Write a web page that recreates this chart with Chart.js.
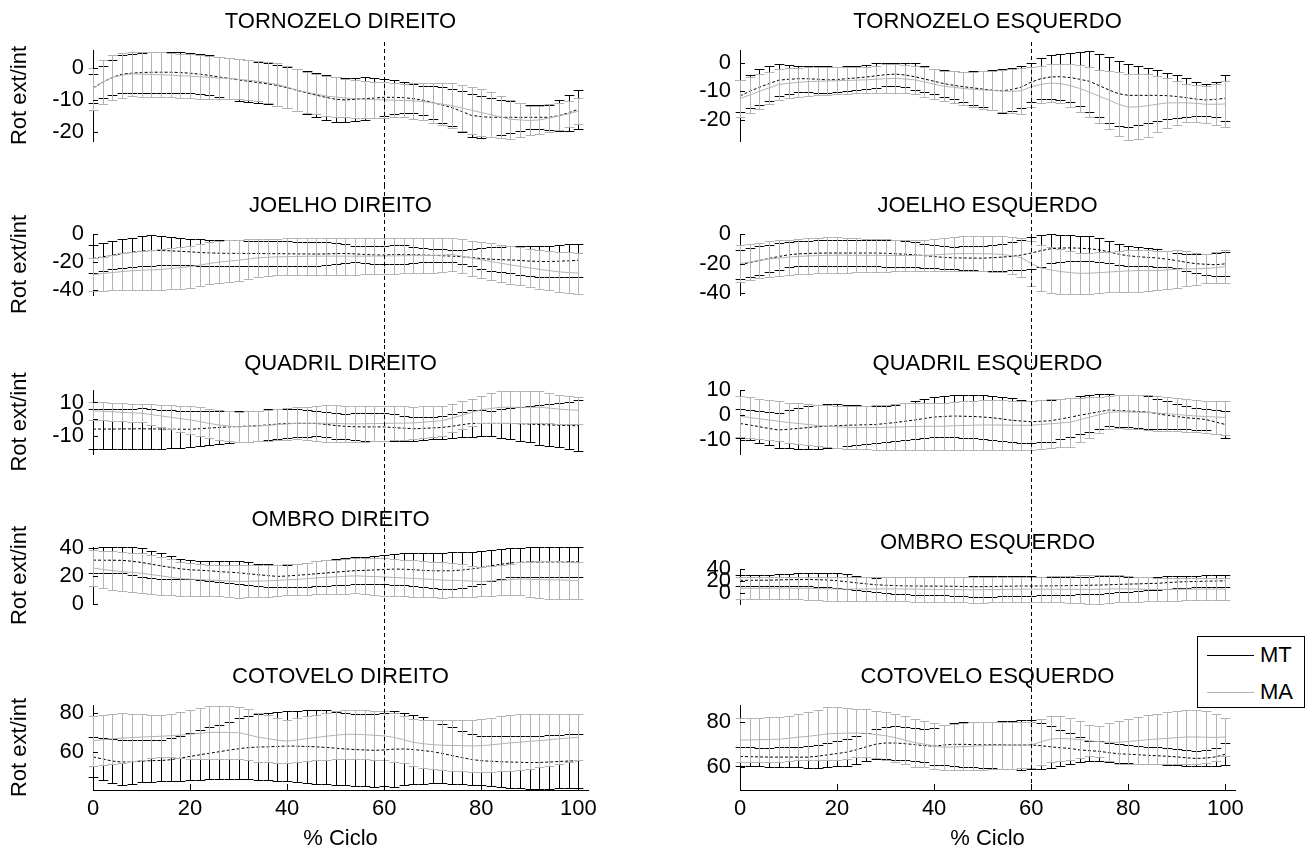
<!DOCTYPE html>
<html>
<head>
<meta charset="utf-8">
<script src="https://cdn.jsdelivr.net/npm/chart.js@4.4.0/dist/chart.umd.min.js"></script>
<style>
  body { margin: 0; background: #fff; }
  #figura { position: relative; width: 1314px; height: 855px; overflow: hidden; font-family: "Liberation Sans", Arial, sans-serif; }
  #figura canvas { position: absolute; }
  #legenda { position: absolute; left: 1197px; top: 636px; width: 106px; height: 70px; border: 1px solid #000; background: #fff; font-size: 22px; }
  #legenda .item { position: absolute; left: 0; height: 26px; line-height: 26px; }
  #legenda .traco { position: absolute; left: 9px; top: 13px; width: 47px; border-top: 1px solid #000; }
  #legenda .nome { position: absolute; left: 62px; top: 0; }
</style>
</head>
<body>
<div id="figura">
  <div id="legenda">
    <div class="item" style="top:5px"><span class="traco"></span><span class="nome">MT</span></div>
    <div class="item" style="top:42px"><span class="traco" style="border-top-color:#b3b3b3"></span><span class="nome">MA</span></div>
  </div>
</div>
<script>
// % do ciclo (eixo x) e marcas
const ciclo = [0,2,4,6,8,10,12,14,16,18,20,22,24,26,28,30,32,34,36,38,40,42,44,46,48,50,52,54,56,58,60,62,64,66,68,70,72,74,76,78,80,82,84,86,88,90,92,94,96,98,100];
const xTicks = [0, 20, 40, 60, 80, 100];
const marcaCiclo = 60;

// TORNOZELO DIREITO
const tornDirMT = [-6.3,-4.5,-3,-2,-1.7,-1.5,-1.4,-1.4,-1.4,-1.5,-1.7,
  -2,-2.4,-2.9,-3.3,-3.8,-4.2,-4.6,-5,-5.5,-6.2,
  -7,-7.8,-8.5,-9.2,-9.8,-10,-9.8,-9.6,-9.4,-9.2,
  -9.2,-9.3,-9.6,-10.1,-10.8,-11.6,-12.4,-13.6,-14.8,-15.2,
  -15.4,-15.4,-15.4,-15.4,-15.4,-15.4,-15.4,-14.9,-14,-12.9];
const tornDirMTdp = [4.5,5,5.5,5.8,6,6.2,6.3,6.3,6.3,6.3,6.3,
  6.2,6.2,6.2,6.3,6.4,6.5,6.5,6.4,6.3,6.3,
  6.5,6.7,6.9,6.9,6.9,6.8,6.7,6.6,6.2,5.8,
  5.3,4.8,4.5,4.5,5,5.5,5.8,6.5,6.6,6.5,
  6,5.5,5,4.3,3.7,3.7,3.8,4.8,5.6,6];
const tornDirMA = [-6.5,-4.5,-3,-2.3,-1.9,-2,-2.1,-2.2,-2.3,-2.5,-2.6,
  -2.8,-3,-3.2,-3.3,-3.6,-3.9,-4.2,-4.7,-5.2,-6,
  -7,-7.6,-8.2,-8.8,-9.1,-9.4,-9.6,-9.8,-9.9,-10,
  -10.1,-10.2,-10.3,-10.5,-10.9,-11.3,-11.8,-12.5,-13.2,-13.9,
  -14.6,-15.3,-16,-16.2,-16.4,-16.2,-15.6,-15,-14.3,-13.5];
const tornDirMAdp = [6.5,6.8,7,7,6.9,7,7,7,6.9,6.9,6.8,
  6.8,6.6,6.4,6.3,6.2,6.2,6.2,6.4,6.6,6.6,
  6.5,6.4,6.3,6.3,6.2,6,5.9,5.7,5.6,5.5,
  5.3,5.2,5.5,5.8,6.2,6.6,7,7.2,7.3,7.4,
  7,6.5,6,5.3,4.6,4.4,4.3,4.2,4.1,4];

// TORNOZELO ESQUERDO
const tornEsqMT = [-11.6,-10,-8.6,-7.3,-6.1,-5.8,-5.6,-5.6,-5.8,-6,-5.9,
  -5.6,-5.3,-5,-4.6,-4.2,-4,-4.3,-4.9,-5.7,-6.5,
  -7.3,-7.9,-8.4,-8.8,-9.2,-9.6,-9.8,-9.4,-8.5,-6.8,
  -5.6,-5,-4.9,-5.2,-5.8,-6.5,-8,-9.5,-10.8,-11.4,
  -11.4,-11.4,-11.4,-11.5,-11.8,-12.2,-12.7,-13,-12.8,-12.4];
const tornEsqMTdp = [5.5,5.8,6.3,6.2,5.6,5,4.5,4.6,4.8,4.7,4.5,
  4.3,4.2,4.3,4.3,4.1,4,4.2,4.6,4.5,4.4,
  4.6,4.9,5.3,5.9,6.4,7,7.6,7.6,7.3,6.8,
  7.1,7.5,8,8.6,9.4,10.7,11,11.5,11.2,11,
  10.3,9.5,8.8,8,7.6,6.8,5.9,5.6,6.2,8];
const tornEsqMA = [-12.5,-11.3,-10,-8.8,-7.6,-7.2,-6.9,-6.6,-6.5,-6.4,-6.3,
  -6.2,-6.1,-6,-5.8,-5.6,-5.5,-5.7,-6,-6.7,-7.5,
  -8.2,-8.6,-9,-9.3,-9.5,-9.7,-9.9,-10,-9.8,-8.4,
  -7.6,-7.1,-7.3,-8,-9,-10.3,-11.7,-13,-14.5,-15.5,
  -15.4,-15,-14.5,-14,-14,-14,-14.2,-14.5,-14.5,-14.4];
const tornEsqMAdp = [6.5,6.3,6,5.7,5.4,5.2,5.1,5,4.9,4.8,4.7,
  4.6,4.5,4.6,4.8,5,5,5,5,5.1,5.2,
  5.3,5.6,5.9,6.2,6.5,6.9,7.3,7.7,8,6.9,
  6.6,6.5,6.8,7.5,8.2,8.8,9.3,10.2,11.1,11.5,
  11.3,11,9.8,8.6,7.6,6.6,6.5,6.5,7.2,7.9];

// JOELHO DIREITO
const joeDirMT = [-17.5,-16.3,-15.1,-14,-13,-12.2,-11.8,-11.8,-12,-12.4,-12.7,
  -13.2,-13.5,-13.7,-13.8,-13.8,-13.9,-13.9,-14,-14,-14.1,
  -14.2,-14.2,-14.3,-14.2,-14,-13.9,-14.2,-14.6,-14.9,-15,
  -14.6,-14.6,-14.8,-15,-15.2,-15.5,-15.8,-16.2,-16.8,-17.5,
  -18,-18.3,-18.5,-18.9,-19.3,-19.6,-19.6,-19.4,-19.1,-18.8];
const joeDirMTdp = [10,10,10,10.2,10.5,10.8,10.8,10.5,10,9.6,9.3,
  9.4,9.5,9.4,9.3,9.2,9.1,9.1,9,9,8.9,
  8.8,8.7,8.6,8.2,7.6,7,5.8,6.2,6.5,6.7,
  7.1,6.5,5.8,5.2,4.8,4.5,4.2,5,6.3,7.5,
  8.4,9,9.6,10.2,10.6,11,11.2,11.5,11.8,12];
const joeDirMA = [-29,-28.2,-27.5,-26.8,-26.2,-25.8,-25.6,-25.3,-24.6,-24,-23.3,
  -22.2,-21,-20,-19.4,-18.7,-17.8,-17,-16.6,-16.3,-16.2,
  -16,-15.9,-15.8,-15.8,-15.8,-15.8,-15.8,-15.8,-15.7,-15.7,
  -15.6,-15.5,-15.4,-15.4,-15.3,-15,-14.6,-15.8,-17.2,-18.4,
  -19.6,-20.8,-22,-23.1,-24.2,-25.2,-26.1,-27,-27.5,-27.9];
const joeDirMAdp = [11.7,12.1,12.5,13,13.5,13.9,14.2,14.4,14.7,14.9,15,
  15,15,15,14.8,14.5,14,13.5,13.2,13,13.1,
  13.2,13.3,13.3,13.3,13.3,13.3,13.3,13,12.8,12.7,
  12.6,12.5,12.4,12.3,12.3,12.2,12.1,12.3,12.5,12.7,
  13,13.1,13.3,13.5,13.7,13.8,14,14.2,14.4,14.6];

// JOELHO ESQUERDO
const joeEsqMT = [-20.8,-19.4,-18,-16.5,-15.2,-14,-13.4,-13.1,-12.9,-12.8,-12.8,
  -12.8,-12.8,-12.8,-12.8,-13,-13.3,-13.6,-14,-14.6,-15.2,
  -15.8,-16.1,-16.2,-16.3,-16.3,-16,-15.6,-15.1,-14.2,-12.8,
  -11.2,-9.9,-9.4,-9.3,-9.5,-9.9,-10.6,-12,-13.6,-14.7,
  -15.3,-15.8,-16.2,-17,-18,-19.2,-20.1,-20.5,-20.8,-20.2];
const joeEsqMTdp = [10,9.9,9.7,9.5,9,8.6,8.6,8.8,9,9.2,9.2,
  9.2,9.2,9.2,9.2,9.2,9.2,9,8.6,8.2,7.8,
  7.6,7.7,7.9,8.1,8.5,9,9.3,9.6,10.2,10.8,
  11,9.8,9.2,8.7,8.5,8.4,8.1,7.6,7.1,6.8,
  6.6,6.2,5.9,5.5,5.2,5.8,6.6,7.3,7.8,8.3];
const joeEsqMA = [-20,-19,-17.9,-16.9,-16.2,-15.6,-15.1,-14.8,-14.6,-14.4,-14.3,
  -14.3,-14.3,-14.4,-14.4,-14.4,-14.5,-14.5,-14.5,-14.4,-14.1,
  -13.7,-13.3,-13.2,-13.2,-13.3,-13.4,-13.8,-14.6,-16,-20,
  -23,-24.4,-25.4,-26.2,-26.7,-26.6,-26.2,-25.8,-25.4,-25,
  -24.8,-24.8,-24.8,-24.4,-23.8,-23.6,-23.6,-23.4,-22.8,-22];
const joeEsqMAdp = [12.8,12.5,12.2,12,12,12,12,12.1,12.2,12.3,12.2,
  12,11.7,11.5,11.3,11.1,10.9,10.7,10.5,10.7,11,
  11.3,11.6,11.7,11.9,12,12.1,12.3,12.8,13.5,15.2,
  15.8,16,15.3,14.6,14,13.9,13.8,13.8,14,14.2,
  14.4,14,13.6,13.2,12.8,12,10.8,10,10.6,11.5];

// QUADRIL DIREITO
const quaDirMT = [-6,-6,-6,-5.9,-5.9,-5.8,-5.9,-6,-6.1,-6.1,-6.1,
  -5.8,-5.4,-5,-4.7,-4.5,-4.2,-4,-3.5,-3,-2.6,
  -2.6,-2.6,-2.6,-3.2,-3.9,-4.4,-4.6,-4.7,-4.7,-4.7,
  -5.1,-5.5,-5.8,-5.6,-5.3,-5,-4.3,-3.4,-2.6,-2.6,
  -2.6,-2.6,-2.6,-2.8,-3,-3.3,-3.5,-3.7,-3.9,-4];
const quaDirMTdp = [12,12,12,12.1,12.1,12.2,12,11.7,11.4,11.1,10.9,
  10.5,10.3,10.1,9.8,9.5,9.3,9.1,9.3,8.9,8.6,
  8.4,7.9,7.5,7.3,7.8,7.6,8.2,8.3,8.5,8.6,
  8.1,7.6,7.2,6.8,6.7,7,7.3,7.6,7.9,7.8,
  7.7,8.5,9.4,10.3,11,12,12.6,13.3,14.3,15.3];
const quaDirMA = [5,4.7,4.4,4.1,3.8,3.5,2.7,1.9,1.1,0.3,-0.5,
  -1.5,-2.6,-3.6,-4.2,-4.7,-4.4,-4.1,-3.8,-3.3,-2.9,
  -2.5,-2.5,-2.5,-2.5,-2.6,-2.8,-2.9,-2.8,-2.7,-2.6,
  -2.5,-2.4,-2.3,-1.9,-1.4,-1,0.6,2.3,4,5.7,
  6.4,7.1,7.1,7.1,7.1,7.1,6.6,6,5.6,5.3];
const quaDirMAdp = [5.5,5.5,5.5,5.5,5.5,5.5,6.1,6.7,7.2,7.8,8.3,
  8.6,8.9,9.1,9,9,9.1,9.2,9.3,9.4,9.4,
  9.5,10,10.5,11,11,10.9,10.8,10.7,10.5,10.4,
  10.2,10,9.8,9.5,9.3,9,8.6,8.3,8.3,8.3,
  9,9.7,9.7,9.7,9.7,9.7,9.2,8.7,8.3,8];

// QUADRIL ESQUERDO
const quaEsqMT = [-3.4,-4,-4.7,-5.4,-6,-5.7,-5.4,-5,-4.7,-4.5,-4.3,
  -4.1,-4,-3.9,-3.8,-3.4,-3,-2.5,-2,-1.4,-0.8,
  -0.6,-0.4,-0.5,-0.6,-0.8,-1.1,-1.6,-2.1,-2.4,-2.7,
  -2.5,-2.3,-1.6,-0.9,-0.1,0.6,1.3,2,1.8,1.6,
  1.4,1.2,0.5,-0.1,-0.6,-1.1,-1.4,-1.8,-2.8,-3.8];
const quaEsqMTdp = [5.8,6,6.3,6.6,7,7.6,8.2,8.6,8.9,8.8,8.7,
  8.3,8,7.6,7.3,7.2,7.2,7.3,7.5,7.8,8,
  8.2,8.4,8.5,8.6,8.8,8.9,8.9,8.8,8.6,8.5,
  8.4,8.3,8.1,7.9,7.6,7.4,7,6.5,6.4,6.4,
  6.5,6.6,6.1,5.6,5.1,4.6,4.4,4.2,4.7,5.3];
const quaEsqMA = [-0.5,-1,-1.5,-2,-2.5,-3,-3.4,-3.8,-4.2,-4.5,-4.7,
  -4.9,-5,-5,-5,-4.9,-4.8,-4.7,-4.6,-4.5,-4.5,
  -4.5,-4.3,-4.2,-4.1,-4,-4,-4,-4.1,-4.1,-4.1,
  -3.8,-3.5,-3.2,-2.9,-1.9,-0.9,0.1,1,1.3,1.2,
  1.1,1,0.8,0.5,0.2,-0.1,-0.4,-0.6,-0.8,-1];
const quaEsqMAdp = [8.2,8.2,8.1,8.1,8,8,8.1,8.2,8.3,8.4,8.5,
  8.5,8.5,8.7,8.9,9.1,9.3,9.4,9.5,9.5,9.5,
  9.5,9.6,9.8,9.9,10,10,10,9.9,9.9,9.9,
  9.8,9.8,9.7,9.7,8.9,8.1,7.3,6.7,6.6,6.7,
  6.8,6.9,7,6.8,6.6,6.5,6.4,6.4,6.6,6.8];

// OMBRO DIREITO
const ombDirMT = [31.2,31.1,31.1,31,30.4,29.5,28.3,27.1,26,25,24.3,
  24,23.6,23,22.6,22.2,21.5,20.8,20.2,19.6,19.9,
  20.4,20.9,21.5,22,22.6,23.2,23.7,23.9,24.2,24.5,
  24.8,24.7,24.4,23.9,23.6,23.6,23.6,24.1,24.9,25.9,
  27.2,28.2,29.2,29.6,29.8,29.9,29.9,29.9,29.9,29.9];
const ombDirMTdp = [8.9,9.1,9.2,9.3,9.9,10,9.7,9,8,7.3,6.8,
  6.8,7.1,7.5,7.8,8.1,8,7.9,7.9,7.8,7.9,
  8.2,8.5,8.9,9,9.2,9.4,9.5,9.7,10,10.3,
  11,11.4,11.7,12.1,12.5,12.8,13,12.7,12.4,11.9,
  11.2,10.7,10.3,10.4,10.5,10.4,10.4,10.4,10.4,10.4];
const ombDirMA = [25.5,24.6,23.8,23,22.4,21.8,20.9,20,19,18,17.7,
  17.3,17,16.7,16.3,16,16.1,16.3,16.4,16.8,17.1,
  17.5,18,18.5,19,19.3,19.7,20,19.7,19.5,19.2,
  18.9,18.5,18.2,17.8,17.4,17,16.8,16.6,16.3,16,
  16.4,16.8,17.3,17.8,17.6,17.3,17.2,17.1,16.9,16.6];
const ombDirMAdp = [13,13.3,13.7,14,14.1,14.2,13.9,13.5,12.8,12,11.7,
  11.3,11,11.2,11.3,11.5,11.4,11.3,11.2,11.1,11,
  11,11.3,11.7,12,12.2,12.3,12.5,12.8,13,13.3,
  13.2,13,12.9,12.8,12.6,12.5,12,11.5,11,10.5,
  10.6,10.7,11.2,11.7,12.5,13.3,13.4,13.4,13.2,12.9];

// OMBRO ESQUERDO
const ombEsqMT = [20.8,21,21.1,21.2,21.6,22,22.2,22.5,22,21.5,20.3,
  18.5,16.7,15,13.5,12.6,12,11.5,11.3,11.2,11.1,
  11.1,10.9,10.5,10.2,10.2,10.5,10.9,11,11.5,11.3,
  11.4,11.6,11.8,12,12.3,12.6,12.9,13.5,14,14.5,
  14.9,15.5,15.8,17,18,18.6,19,19.4,19.8,20];
const ombEsqMTdp = [9.1,9.3,9.4,9.5,10,10.4,10.5,11,12,12.5,12.8,
  13,12.3,11.6,12,13.3,14,14.4,14.8,15,15.3,
  15.7,16.1,16.6,17.2,17.3,17,17,17.1,17,16.1,
  15.4,15.3,15.1,15.1,14.8,14.5,14.5,14.2,13.5,12.8,
  11.9,11,10.4,10.8,10.5,9.9,9.8,9.8,9.8,9.9];
const ombEsqMA = [7.5,7.5,7.6,7.6,7.7,7.7,7.6,7.5,7,6.6,6.3,
  6,6.2,6.3,6.4,6.4,6.4,6.3,6.1,5.9,5.7,
  5.5,5.3,5.2,5.1,5.2,5.4,5.7,5.9,6,6,
  5.9,5.8,5.8,5.8,5.7,5.6,5.8,6.2,6.5,6.6,
  6.2,5.8,5.4,5.6,5.8,6,6.1,6.2,6.2,6.2];
const ombEsqMAdp = [18.5,18.5,18.6,18.7,18.8,18.9,19,19,19.5,20,20.3,
  20.5,20.5,20.5,20.6,20.6,20.7,20.8,20.9,21,21,
  21.2,21.4,21.6,21.8,21.7,21.5,21.3,21.2,21.1,21,
  21.3,21.7,22.1,22.5,23.5,24.3,24.3,23.4,22.6,21.8,
  21,20.3,19.6,19.4,19.2,19,18.9,18.8,18.8,18.8];

// COTOVELO DIREITO
const cotDirMT = [57.4,56.4,55.3,54.8,55,55.3,55.5,55.6,56,56.8,57.7,
  58.5,59.3,60.1,60.9,61.6,62.2,62.5,62.6,62.8,63,
  62.9,62.8,62.6,62.3,61.9,61.5,61.2,61,60.8,61,
  61.4,61.5,61.2,60.7,60.1,59.2,58.1,57.1,56.1,55.5,
  55.2,55,54.8,54.7,54.5,54.6,54.8,55.1,55.3,55.5];
const cotDirMTdp = [10.4,10.8,11.2,11.5,11.2,10.9,10.7,10.6,10.9,11.5,12.2,
  12.7,13.2,13.8,14.6,15.5,16.3,16.8,17.2,17.6,17.9,
  18.2,18.5,18.8,18.9,18.7,18.5,18.4,18.5,18.6,18.7,
  19.3,18.6,17.8,17,16.1,15.3,14.4,13.6,12.9,12.6,
  12.7,12.9,13.1,13.3,13.5,13.5,13.6,13.7,13.7,13.8];
const cotDirMA = [65.7,66.2,66.7,67.1,67.3,67.6,67.8,68,68.3,68.6,69,
  69.5,70,70,69.9,69.8,68.8,67.5,66.8,66,65.5,
  66.1,66.8,67.4,68,68.5,69,69,68.8,68.5,68.2,
  67.4,66.3,64.9,64.2,63.7,63.4,63.3,63.2,63,63.2,
  63.6,64.1,64.6,65,65.4,65.8,66.2,66.7,67.1,67.5];
const cotDirMAdp = [12.7,12.8,12.9,12.8,12.2,11.6,11.1,10.7,11,11.8,12.6,
  13.1,13.5,13.4,13.4,13.3,13,12.5,12,11.5,11,
  11.2,11.5,11.7,12,12.3,12.5,12.6,12.6,12.6,12.6,
  12.4,12.2,12,12.2,12.5,12.7,13,13.2,13.5,13.6,
  13.8,14.1,14.4,14.2,14,13.7,13.2,12.8,12.3,11.9];

// COTOVELO ESQUERDO
const cotEsqMT = [64.5,64.4,64.3,64.2,64.2,64.2,64.2,64.2,64.6,65.2,65.8,
  66.4,67.5,68.8,70,70.5,70.5,70.2,69.8,69.3,69.1,
  69.6,69.9,69.9,69.8,69.7,69.7,69.7,69.6,69.6,69.7,
  69.3,68.8,68.4,68.1,67.4,67.1,66.8,66.2,65.7,65.5,
  65.3,65,64.8,64.6,64.3,63.9,63.6,63.8,64.3,65.5];
const cotEsqMTdp = [4.1,4.2,4.2,4.3,4.4,4.5,4.6,4.8,5.2,5.5,5.7,
  6,6.2,6.4,6.7,7,7.4,7.5,7.5,7.5,8.2,
  8.9,9.5,10,10.2,10.2,10.4,10.6,10.8,11,11,
  10.3,9.3,8,6.8,5.6,4.5,4.4,4.3,4.2,4.1,
  4,3.9,3.8,3.7,3.6,3.5,3.5,3.7,4,5];
const cotEsqMA = [71.8,71.9,72,72.1,72.2,72.6,73.1,73.5,74,74.6,74.8,
  74.9,75,74.8,74.3,73.8,72.9,71.8,70.7,70,69.2,
  68.6,68.7,68.9,69.1,69.3,69.4,69.5,69.6,69.6,69.7,
  71,72.3,72.5,72.4,72,71.5,71.1,70.8,70.8,71.2,
  71.6,72,72.3,72.6,72.9,73.2,73.2,73.1,73,73.2];
const cotEsqMAdp = [9.7,9.8,9.8,9.9,10,10.2,10.4,10.7,11.2,11.8,12,
  11.4,10.8,10.7,10.7,10.7,10.7,10.7,10.7,10.4,10.1,
  10,10.2,10.4,10.6,10.7,10.6,10.6,10.5,10.4,10.4,
  10.4,10.4,10,9.5,8.3,7,7,8.5,9.6,10.1,
  10.6,11,11.3,11.6,11.8,12,11.9,11.6,10.5,8.5];

// marcas do eixo y
const yTicksTorn = [-20, -10, 0];
const yTicksJoe = [-40, -20, 0];
const yTicksQua = [-10, 0, 10];
const yTicksOmb = [0, 20, 40];
const yTicksCot = [60, 80];

// lista dos gráficos (linha, coluna)
const graficos = [
  { titulo: 'TORNOZELO DIREITO', lin: 0, col: 0, mt: tornDirMT, mtDp: tornDirMTdp, ma: tornDirMA, maDp: tornDirMAdp, yMin: -22.75, yMax: 5.5, yTicks: yTicksTorn },
  { titulo: 'TORNOZELO ESQUERDO', lin: 0, col: 1, mt: tornEsqMT, mtDp: tornEsqMTdp, ma: tornEsqMA, maDp: tornEsqMAdp, yMin: -27.3, yMax: 4.4, yTicks: yTicksTorn },
  { titulo: 'JOELHO DIREITO', lin: 1, col: 0, mt: joeDirMT, mtDp: joeDirMTdp, ma: joeDirMA, maDp: joeDirMAdp, yMin: -43.5, yMax: 0, yTicks: yTicksJoe },
  { titulo: 'JOELHO ESQUERDO', lin: 1, col: 1, mt: joeEsqMT, mtDp: joeEsqMTdp, ma: joeEsqMA, maDp: joeEsqMAdp, yMin: -41.5, yMax: 0.2, yTicks: yTicksJoe },
  { titulo: 'QUADRIL DIREITO', lin: 2, col: 0, mt: quaDirMT, mtDp: quaDirMTdp, ma: quaDirMA, maDp: quaDirMAdp, yMin: -21, yMax: 17.5, yTicks: yTicksQua },
  { titulo: 'QUADRIL ESQUERDO', lin: 2, col: 1, mt: quaEsqMT, mtDp: quaEsqMTdp, ma: quaEsqMA, maDp: quaEsqMAdp, yMin: -15.6, yMax: 10, yTicks: yTicksQua },
  { titulo: 'OMBRO DIREITO', lin: 3, col: 0, mt: ombDirMT, mtDp: ombDirMTdp, ma: ombDirMA, maDp: ombDirMAdp, yMin: 0, yMax: 40.5, yTicks: yTicksOmb },
  { titulo: 'OMBRO ESQUERDO', lin: 3, col: 1, mt: ombEsqMT, mtDp: ombEsqMTdp, ma: ombEsqMA, maDp: ombEsqMAdp, yMin: -19, yMax: 40, yTicks: yTicksOmb },
  { titulo: 'COTOVELO DIREITO', lin: 4, col: 0, mt: cotDirMT, mtDp: cotDirMTdp, ma: cotDirMA, maDp: cotDirMAdp, yMin: 40.5, yMax: 84, yTicks: yTicksCot },
  { titulo: 'COTOVELO ESQUERDO', lin: 4, col: 1, mt: cotEsqMT, mtDp: cotEsqMTdp, ma: cotEsqMA, maDp: cotEsqMAdp, yMin: 49.5, yMax: 87.5, yTicks: yTicksCot }
];

// posições na página
const colunas = [
  { esq: 0, larg: 615, eixo: 93, fim: 588 },
  { esq: 630, larg: 632, eixo: 740, fim: 1235 }
];
const linhas = [
  { y0: 0, alt: 185, base: 163 },
  { y0: 185, alt: 160, base: 320 },
  { y0: 345, alt: 155, base: 477 },
  { y0: 500, alt: 160, base: 632 },
  { y0: 660, alt: 195, base: 790 }
];
const topos = [[50, 50], [234, 234], [390, 390], [547, 569], [705, 705]];
const titulosY = [[22, 22], [206, 206], [364, 364], [520, 543], [677, 677]];

const CINZA = '#b3b3b3';
const FONTE = 22;
Chart.defaults.font.family = '"Liberation Sans", Arial, sans-serif';
Chart.defaults.color = '#000';

const barrasErro = {
  id: 'barrasErro',
  beforeDatasetDraw(chart, args) {
    const ds = chart.data.datasets[args.index];
    const xs = args.meta.xScale, ys = args.meta.yScale;
    const ctx = chart.ctx;
    const cap = xs.getPixelForValue(1) - xs.getPixelForValue(0);
    ctx.save();
    ctx.strokeStyle = ds.borderColor;
    ctx.lineWidth = 1;
    ctx.beginPath();
    ds.data.forEach((p, i) => {
      const x = Math.round(xs.getPixelForValue(p.x)) + 0.5;
      const yA = Math.round(ys.getPixelForValue(p.y + ds.dp[i])) + 0.5;
      const yB = Math.round(ys.getPixelForValue(p.y - ds.dp[i])) + 0.5;
      ctx.moveTo(x, yA); ctx.lineTo(x, yB);
      ctx.moveTo(x - cap, yA); ctx.lineTo(x + cap, yA);
      ctx.moveTo(x - cap, yB); ctx.lineTo(x + cap, yB);
    });
    ctx.stroke();
    ctx.restore();
  },
  afterDatasetsDraw(chart, args, opts) {
    const { ctx, chartArea } = chart;
    const x = chart.scales.x, y = chart.scales.y;
    ctx.save();
    ctx.strokeStyle = '#000';
    ctx.lineWidth = 1;
    ctx.beginPath();
    y.ticks.forEach(t => {
      const py = Math.round(y.getPixelForValue(t.value)) + 0.5;
      ctx.moveTo(chartArea.left, py); ctx.lineTo(chartArea.left + 5, py);
    });
    if (opts.eixoX) {
      x.ticks.forEach(t => {
        const px = Math.round(x.getPixelForValue(t.value)) + 0.5;
        ctx.moveTo(px, chartArea.bottom); ctx.lineTo(px, chartArea.bottom - 6);
      });
    }
    ctx.stroke();
    // linha tracejada em 60% do ciclo
    const xd = Math.round(x.getPixelForValue(marcaCiclo)) + 0.5;
    ctx.setLineDash([4, 3]);
    ctx.beginPath();
    ctx.moveTo(xd, opts.topo);
    ctx.lineTo(xd, opts.eixoX ? chartArea.bottom : chart.height);
    ctx.stroke();
    ctx.restore();
  }
};

const figura = document.getElementById('figura');

graficos.forEach(g => {
  const col = colunas[g.col];
  const lin = linhas[g.lin];
  const ultima = g.lin === linhas.length - 1;
  const topo = topos[g.lin][g.col] - lin.y0;
  const tituloY = titulosY[g.lin][g.col] - lin.y0;
  const lh = FONTE * 1.2;
  const padTop = tituloY - lh / 2;
  const padBottom = topo - lh - padTop;

  const cv = document.createElement('canvas');
  cv.width = col.larg;
  cv.height = lin.alt;
  cv.style.left = col.esq + 'px';
  cv.style.top = lin.y0 + 'px';
  figura.insertBefore(cv, document.getElementById('legenda'));

  new Chart(cv, {
    type: 'line',
    data: {
      datasets: [
        { label: 'MT', data: ciclo.map((c, i) => ({ x: c, y: g.mt[i] })), dp: g.mtDp,
          borderColor: '#000', borderWidth: 1, borderDash: [3, 2], pointRadius: 0, order: 2 },
        { label: 'MA', data: ciclo.map((c, i) => ({ x: c, y: g.ma[i] })), dp: g.maDp,
          borderColor: CINZA, borderWidth: 1, pointRadius: 0, order: 1 }
      ]
    },
    options: {
      responsive: false,
      animation: false,
      events: [],
      layout: { padding: { top: 0, left: 0, right: col.esq + col.larg - col.fim, bottom: ultima ? 0 : (lin.y0 + lin.alt - lin.base) } },
      plugins: {
        legend: { display: false },
        tooltip: { enabled: false },
        title: { display: true, text: g.titulo, fullSize: false, color: '#000',
          font: { size: FONTE, weight: 'normal' }, padding: { top: padTop, bottom: padBottom } },
        barrasErro: { topo: g.lin === 0 ? 42 : 0, eixoX: ultima }
      },
      scales: {
        x: {
          type: 'linear', min: 0, max: 102, display: ultima,
          grid: { display: false, drawTicks: false },
          border: { display: true, color: '#000' },
          ticks: { padding: 6, color: '#000', font: { size: FONTE }, autoSkip: false, maxRotation: 0 },
          afterBuildTicks: s => { s.ticks = xTicks.map(v => ({ value: v })); },
          afterFit: s => { s.height = lin.y0 + lin.alt - lin.base; },
          title: { display: ultima, text: '% Ciclo', color: '#000', font: { size: FONTE }, padding: { top: 0, bottom: 3 } }
        },
        y: {
          min: g.yMin, max: g.yMax,
          grid: { display: false, drawTicks: false },
          border: { display: true, color: '#000' },
          ticks: { padding: 9, color: '#000', font: { size: FONTE }, autoSkip: false },
          afterBuildTicks: s => { s.ticks = g.yTicks.map(v => ({ value: v })); },
          afterFit: s => { s.width = col.eixo - col.esq; },
          title: { display: g.col === 0, text: 'Rot ext/int', color: '#000', font: { size: FONTE }, padding: { top: 7, bottom: 0 } }
        }
      }
    },
    plugins: [barrasErro]
  });
});
</script>
</body>
</html>
